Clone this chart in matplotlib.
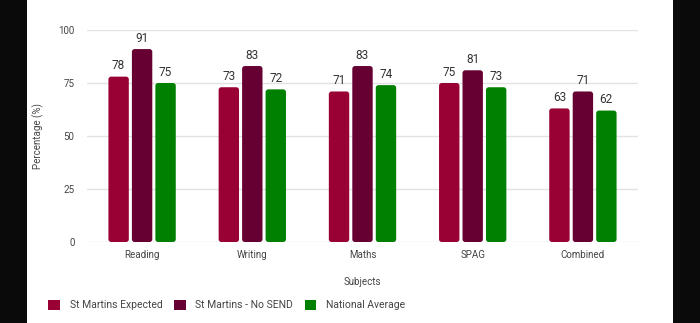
import numpy as np
from matplotlib import pyplot as plt
from matplotlib.patches import FancyBboxPatch, Patch, Rectangle

plt.rcParams["font.family"] = ["Roboto", "DejaVu Sans"]

subjects = ["Reading", "Writing", "Maths", "SPAG", "Combined"]
expected = [78, 73, 71, 75, 63]
no_send = [91, 83, 83, 81, 71]
national = [75, 72, 74, 73, 62]

series = [
    ("St Martins Expected", expected, "#990033"),
    ("St Martins - No SEND", no_send, "#660033"),
    ("National Average", national, "#008000"),
]

fig = plt.figure(figsize=(7, 3.23), dpi=100)
fig.patch.set_facecolor("white")

# black side strips from the screenshot
fig.add_artist(Rectangle((0, 0), 27 / 700, 1, transform=fig.transFigure,
                         facecolor="#0a0a0a", edgecolor="none"))
fig.add_artist(Rectangle((673 / 700, 0), 27 / 700, 1, transform=fig.transFigure,
                         facecolor="#0a0a0a", edgecolor="none"))

ax = fig.add_axes([87 / 700, 81 / 323, 551 / 700, 212 / 323])

x = np.arange(len(subjects))
width = 0.185
offset = 0.213
# pixels per data unit in x divided by pixels per data unit in y
aspect = (551 / 5) / (212 / 100)

handles = []
for i, (label, values, color) in enumerate(series):
    pos = x + (i - 1) * offset
    bars = ax.bar(pos, values, width, color=color)
    for rect in bars:
        rect.set_visible(False)
        patch = FancyBboxPatch(
            (rect.get_x(), rect.get_y()),
            rect.get_width(),
            rect.get_height(),
            boxstyle="round,pad=0,rounding_size=0.025",
            mutation_aspect=aspect,
            facecolor=color,
            edgecolor="none",
        )
        ax.add_patch(patch)
    for px, v in zip(pos, values):
        ax.annotate(str(v), (px, v), xytext=(0, 3), textcoords="offset points",
                    ha="center", va="bottom", fontsize=8.5, color="#333333")
    handles.append(Patch(facecolor=color, edgecolor="none", label=label))

ax.set_xlim(-0.5, len(subjects) - 0.5)
ax.set_ylim(0, 100)
ax.set_yticks([0, 25, 50, 75, 100])
ax.set_xticks(x)
ax.set_xticklabels(subjects)
ax.tick_params(axis="both", length=0, labelsize=7, colors="#444444")
ax.tick_params(axis="x", pad=6)
ax.tick_params(axis="y", pad=9)
ax.grid(axis="y", color="#e2e2e2", linewidth=1)
ax.set_axisbelow(True)
for spine in ax.spines.values():
    spine.set_visible(False)

ax.set_xlabel("Subjects", fontsize=7, color="#444444", labelpad=12)
ax.set_ylabel("Percentage (%)", fontsize=7, color="#444444", labelpad=10)

fig.legend(
    handles=handles,
    loc="center left",
    bbox_to_anchor=(39 / 700, 1 - 305 / 323),
    ncol=3,
    frameon=False,
    fontsize=7.5,
    handlelength=1.15,
    handleheight=1.15,
    handletextpad=0.9,
    columnspacing=1.1,
    labelcolor="#444444",
)

plt.savefig("out.png", dpi=100)
plt.close()
